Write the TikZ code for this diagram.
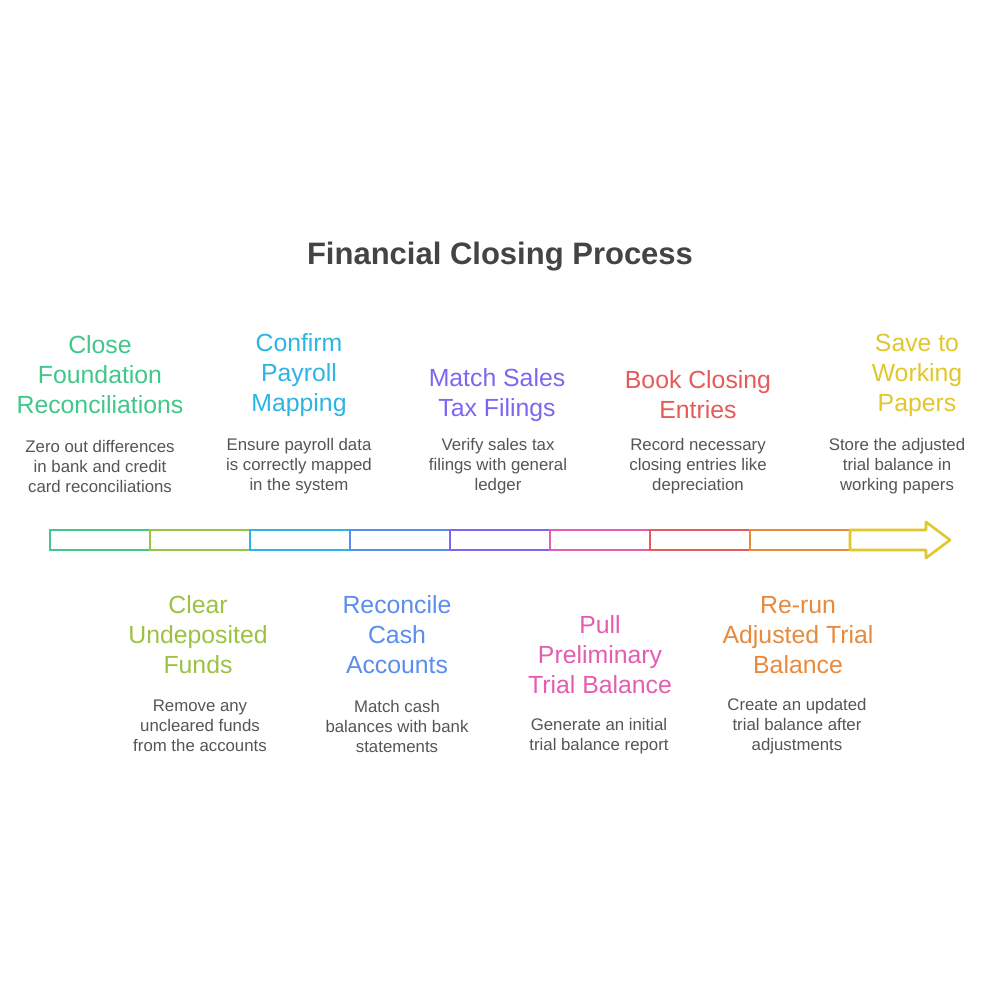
\documentclass[tikz,border=0pt]{standalone}
\usepackage{fontspec}
\setmainfont{Liberation Sans}
\definecolor{cA}{HTML}{42C78A}
\definecolor{cB}{HTML}{9CC242}
\definecolor{cC}{HTML}{2EB4E2}
\definecolor{cD}{HTML}{5B8DEE}
\definecolor{cE}{HTML}{7D66F2}
\definecolor{cF}{HTML}{E45DAF}
\definecolor{cG}{HTML}{E65A5A}
\definecolor{cH}{HTML}{E78A3C}
\definecolor{cI}{HTML}{E1C72C}
\definecolor{titlegray}{HTML}{444444}
\definecolor{descgray}{HTML}{555555}
\begin{document}
\begin{tikzpicture}[x=1pt,y=-1pt,
  seg/.style={draw, line width=2.6pt, minimum width=100pt, minimum height=20pt, inner sep=0pt, outer sep=0pt},
  head/.style={align=center, inner sep=0pt, font=\fontsize{24.8}{30}\selectfont},
  desc/.style={align=center, inner sep=0pt, text=descgray, font=\fontsize{16.8}{20}\selectfont}]
\useasboundingbox (0,0) rectangle (1000,1000);
\fill[white] (0,0) rectangle (1000,1000);
\node[font=\bfseries\fontsize{31}{36}\selectfont, text=titlegray] (title) at (500,257) {Financial Closing Process};
% bar segments
\node[seg, draw=cA] (s1) at (100,540) {};
\node[seg, draw=cB] (s2) at (200,540) {};
\node[seg, draw=cC] (s3) at (300,540) {};
\node[seg, draw=cD] (s4) at (400,540) {};
\node[seg, draw=cE] (s5) at (500,540) {};
\node[seg, draw=cF] (s6) at (600,540) {};
\node[seg, draw=cG] (s7) at (700,540) {};
\node[seg, draw=cH] (s8) at (800,540) {};
\coordinate (tip) at (950,540);
\draw[cI, line width=2.6pt, line join=round] (s8.north east) -- (926,530) -- (926,522) -- (tip) -- (926,558) -- (926,550) -- (s8.south east) -- cycle;
% top labels
\node[head, text=cA] (h1) at (100,375) {Close\\Foundation\\Reconciliations};
\node[desc] (d1) at (100,466) {Zero out differences\\in bank and credit\\card reconciliations};
\node[head, text=cC] (h3) at (299,375) {Confirm\\Payroll\\Mapping};
\node[desc] (d3) at (299,466) {Ensure payroll data\\is correctly mapped\\in the system};
\node[head, text=cE] (h5) at (497,395) {Match Sales\\Tax Filings};
\node[desc] (d5) at (498,466) {Verify sales tax\\filings with general\\ledger};
\node[head, text=cG] (h7) at (698,395) {Book Closing\\Entries};
\node[desc] (d7) at (698,466) {Record necessary\\closing entries like\\depreciation};
\node[head, text=cI] (h9) at (917,375) {Save to\\Working\\Papers};
\node[desc] (d9) at (897,466) {Store the adjusted\\trial balance in\\working papers};
% bottom labels
\node[head, text=cB] (h2) at (198,635) {Clear\\Undeposited\\Funds};
\node[desc] (d2) at (200,726) {Remove any\\uncleared funds\\from the accounts};
\node[head, text=cD] (h4) at (397,635) {Reconcile\\Cash\\Accounts};
\node[desc] (d4) at (397,726) {Match cash\\balances with bank\\statements};
\node[head, text=cF] (h6) at (600,655) {Pull\\Preliminary\\Trial Balance};
\node[desc] (d6) at (599,736) {Generate an initial\\trial balance report};
\node[head, text=cH] (h8) at (798,635) {Re-run\\Adjusted Trial\\Balance};
\node[desc] (d8) at (797,726) {Create an updated\\trial balance after\\adjustments};
\end{tikzpicture}
\end{document}
